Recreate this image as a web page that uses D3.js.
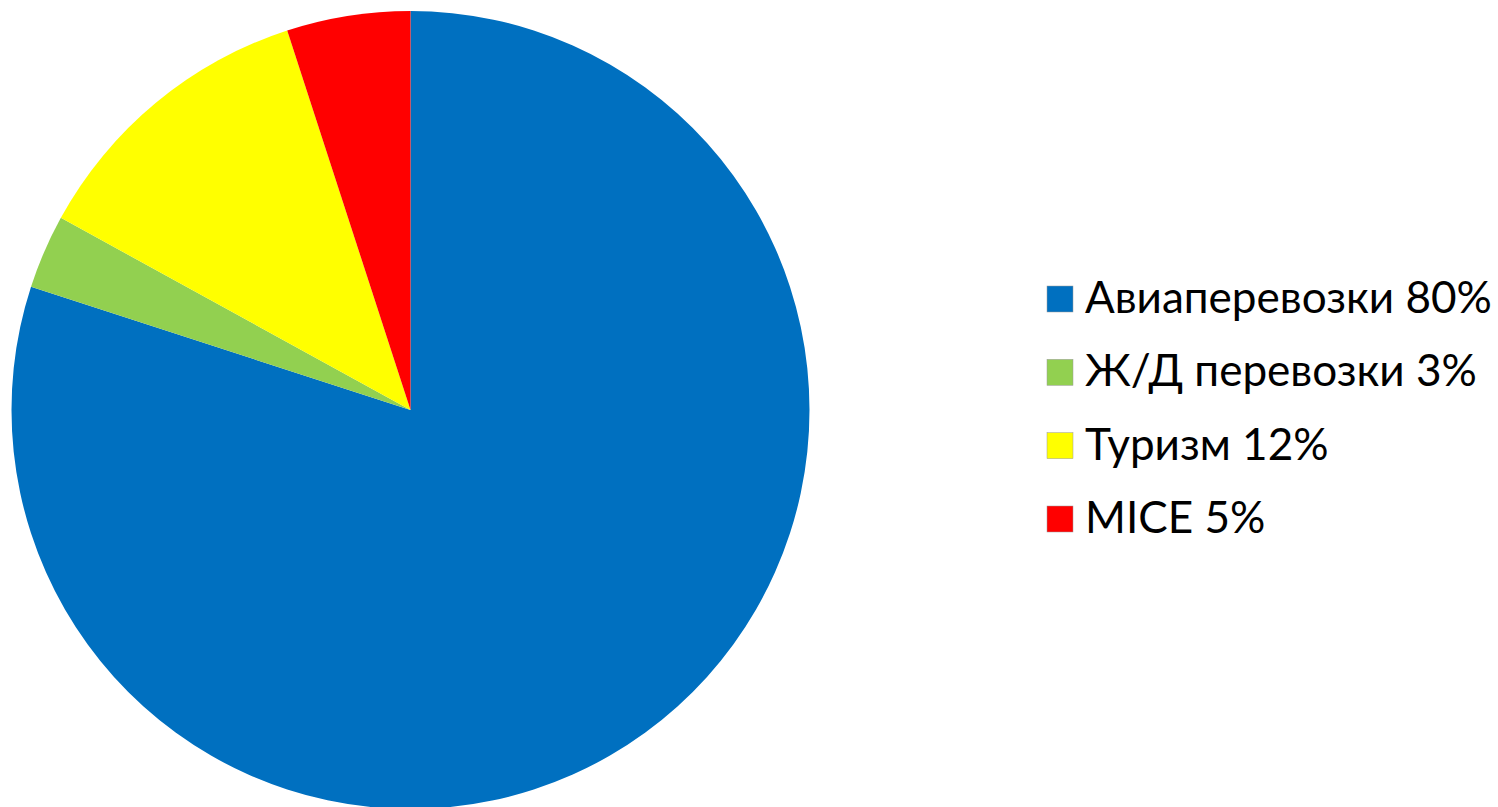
<!DOCTYPE html>
<html><head><meta charset="utf-8">
<script src="https://cdn.jsdelivr.net/npm/d3@7"></script>
<style>html,body{margin:0;padding:0;background:#fff;overflow:hidden}</style>
</head><body>
<svg id="chart" width="1498" height="807"></svg>
<script>
const categories = ["Авиаперевозки", "Ж/Д перевозки", "Туризм", "MICE"];
const values = [80, 3, 12, 5];
const colors = ["#0070C0", "#92D050", "#FFFF00", "#FF0000"];

const svg = d3.select("#chart");
const cx = 410.5, cy = 410, r = 399;

const pie = d3.pie().sort(null).value(d => d.value);
const arcs = pie(categories.map((c, i) => ({cat: c, value: values[i], color: colors[i]})));
const arc = d3.arc().innerRadius(0).outerRadius(r);

svg.append("g").attr("transform", `translate(${cx},${cy})`)
  .selectAll("path").data(arcs).join("path")
  .attr("d", arc).attr("fill", d => d.data.color);

const legend = svg.append("g");
const rowY = d3.scaleLinear().domain([0, 3]).range([313, 533]);
const rows = legend.selectAll("g").data(arcs).join("g")
  .attr("transform", (d, i) => `translate(1047,${rowY(i)})`);
rows.append("rect").attr("x", 0).attr("y", -27).attr("width", 26).attr("height", 26)
  .attr("fill", d => d.data.color).attr("stroke", "#9a9a9a").attr("stroke-width", 0.5);
const texts = rows.append("text").attr("x", 38).attr("y", 0)
  .attr("font-family", "Lato, 'Open Sans', sans-serif").attr("font-size", 38)
  .attr("fill", "#000")
  .text(d => `${d.data.cat} ${d.data.value}%`);
// fit font size so first label width matches target
const w0 = texts.node().getComputedTextLength();
const fs = 38 * 407 / w0;
texts.attr("font-size", fs);
</script>
</body></html>
